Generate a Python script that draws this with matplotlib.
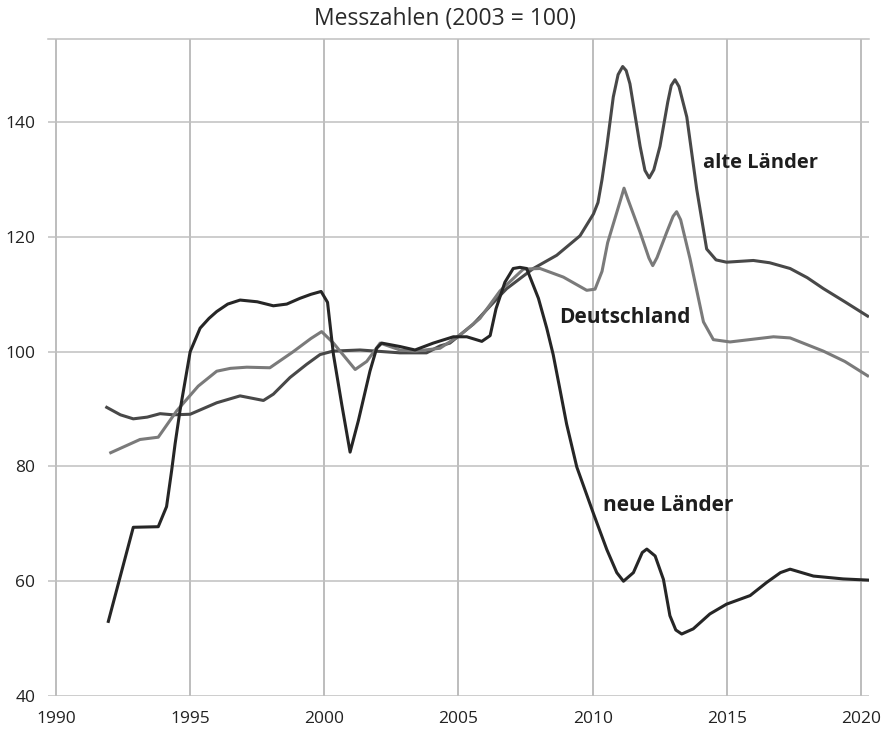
import matplotlib
matplotlib.use("Agg")
import matplotlib.pyplot as plt

# values (Messzahlen, 2003 = 100)
nl_years = [1991.95, 1992.88, 1993.81, 1994.12, 1994.31, 1994.44, 1994.62, 1995.00,
            1995.37, 1995.70, 1995.99, 1996.40, 1996.86, 1997.50, 1998.10, 1998.60,
            1999.09, 1999.50, 1999.88, 2000.12, 2000.34,
            2000.65, 2000.96, 2001.27, 2001.70, 2001.95, 2002.14, 2002.82, 2003.38,
            2004.06, 2004.81, 2005.31, 2005.87, 2006.18, 2006.40, 2006.73, 2007.04,
            2007.29, 2007.54, 2007.98, 2008.29, 2008.53, 2008.80, 2009.03, 2009.41,
            2010.03, 2010.53, 2010.90, 2011.15, 2011.52, 2011.85, 2012.02, 2012.33,
            2012.64, 2012.88, 2013.10, 2013.32, 2013.75, 2014.37, 2014.99, 2015.87,
            2016.49, 2017.00, 2017.36, 2018.23, 2019.34, 2020.25]
nl_vals = [53.0, 69.4, 69.5, 73.0, 79.3, 84.0, 89.7, 100.0,
           104.1, 105.8, 107.0, 108.3, 109.0, 108.7, 108.0, 108.3,
           109.3, 110.0, 110.5, 108.6, 99.5,
           90.8, 82.5, 88.0, 96.6, 100.6, 101.5, 100.9, 100.3,
           101.5, 102.6, 102.6, 101.8, 102.8, 107.5, 112.1, 114.5,
           114.7, 114.5, 109.3, 104.1, 99.5, 93.0, 87.4, 79.9,
           71.8, 65.5, 61.5, 60.0, 61.5, 65.0, 65.6, 64.4,
           60.3, 54.0, 51.5, 50.8, 51.7, 54.3, 56.0, 57.5,
           59.8, 61.5, 62.1, 60.9, 60.4, 60.2]

al_years = [1991.89, 1992.40, 1992.88, 1993.40, 1993.88, 1994.37, 1995.00, 1995.99,
            1996.86, 1997.73, 1998.10, 1998.72, 1999.34, 1999.84, 2000.32, 2001.33,
            2002.82, 2003.81, 2004.31, 2004.68, 2005.55, 2006.55, 2006.80, 2007.79,
            2008.66, 2009.53, 2010.03, 2010.20, 2010.35, 2010.53, 2010.77, 2010.95,
            2011.12, 2011.25, 2011.39, 2011.77, 2011.95, 2012.11, 2012.28, 2012.51,
            2012.80, 2012.93, 2013.07, 2013.22, 2013.51, 2013.88,
            2014.25, 2014.60, 2014.99, 2015.99, 2016.60, 2017.36, 2018.00, 2018.60,
            2019.40, 2020.25]
al_vals = [90.3, 89.0, 88.3, 88.6, 89.2, 89.0, 89.1, 91.1,
           92.3, 91.5, 92.6, 95.5, 97.8, 99.5, 100.1, 100.3,
           99.8, 99.8, 101.0, 101.5, 104.8, 109.8, 111.0, 114.5,
           116.8, 120.2, 124.0, 126.0, 130.0, 135.8, 144.4, 148.3,
           149.7, 149.0, 146.7, 135.8, 131.6, 130.3, 131.7, 135.8,
           143.5, 146.4, 147.4, 146.2, 140.9, 128.3,
           117.9, 116.0, 115.6, 115.9, 115.5, 114.5, 112.9, 111.0,
           108.7, 106.2]

de_years = [1992.04, 1993.13, 1993.81, 1994.50, 1995.30, 1995.99, 1996.50, 1997.11,
            1997.97, 1998.84, 1999.50, 1999.90, 2000.34, 2001.15, 2001.58, 2002.08, 2002.82,
            2003.38, 2004.31, 2005.06, 2005.80, 2006.55, 2007.42, 2008.04, 2008.91,
            2009.78, 2010.09, 2010.35, 2010.56, 2011.05, 2011.17, 2011.32, 2011.77,
            2012.10, 2012.24, 2012.40, 2012.76, 2013.00, 2013.13, 2013.28, 2013.63,
            2014.13, 2014.50, 2015.12, 2016.74, 2017.36, 2018.60,
            2019.40, 2020.25]
de_vals = [82.4, 84.7, 85.1, 89.7, 94.0, 96.6, 97.1, 97.3,
           97.2, 100.0, 102.3, 103.5, 101.5, 96.9, 98.3, 101.5, 100.3,
           100.1, 100.6, 102.9, 105.8, 110.6, 114.4, 114.5, 113.0,
           110.7, 110.9, 114.0, 119.0, 126.6, 128.5, 126.5, 120.8,
           116.3, 115.0, 116.4, 120.8, 123.6, 124.4, 123.0, 116.2,
           105.2, 102.1, 101.7, 102.6, 102.4, 100.1,
           98.3, 95.8]

x_ticks = [1990, 1995, 2000, 2005, 2010, 2015, 2020]
y_ticks = [40, 60, 80, 100, 120, 140]

plt.rcParams['font.family'] = ['Open Sans', 'DejaVu Sans']

fig = plt.figure(figsize=(8.85, 7.3), dpi=100)
ax = fig.add_axes([0.0542, 0.0466, 0.9277, 0.9])

ax.plot(al_years, al_vals, color='#484848', lw=2.2, solid_joinstyle='round', zorder=3)
ax.plot(de_years, de_vals, color='#7a7a7a', lw=2.2, solid_joinstyle='round', zorder=4)
ax.plot(nl_years, nl_vals, color='#262626', lw=2.2, solid_joinstyle='round', zorder=5)

ax.set_xlim(1989.7, 2020.3)
ax.set_ylim(40, 154.5)
ax.set_xticks(x_ticks)
ax.set_yticks(y_ticks)
ax.grid(True, axis='y', color='#c0c0c0', lw=1.1)
ax.grid(True, axis='x', color='#ababab', lw=1.1)
ax.set_axisbelow(True)
for s in ['left', 'right', 'bottom']:
    ax.spines[s].set_visible(False)
ax.spines['top'].set_color('#c0c0c0')
ax.spines['top'].set_linewidth(1.1)
ax.tick_params(axis='both', length=0, labelsize=12.5, colors='#222222')
ax.tick_params(axis='y', pad=9)
ax.tick_params(axis='x', pad=11)

# title sits slightly left of the axes centre in the original
fig.text(445 / 885, 1 - 19 / 730, 'Messzahlen (2003 = 100)', fontsize=16.5,
         color='#2a2a2a', ha='center', va='center')

lab = dict(fontweight='bold', color='#1e1e1e', va='center', ha='left')
ax.text(2014.1, 132.8, 'alte Länder', fontsize=14.5, **lab)
ax.text(2008.75, 105.9, 'Deutschland', fontsize=15, **lab)
ax.text(2010.4, 73.2, 'neue Länder', fontsize=15, **lab)

fig.savefig('out.png', dpi=100)
